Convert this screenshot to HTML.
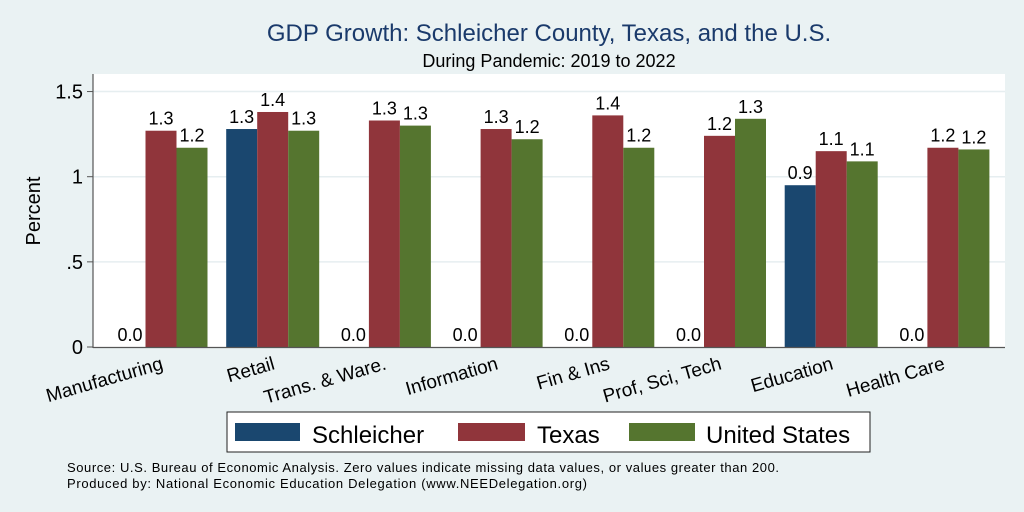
<!DOCTYPE html>
<html><head><meta charset="utf-8"><style>
body{margin:0;background:#eaf2f3;}
svg{display:block;font-family:"Liberation Sans",Arial,sans-serif;}
</style></head><body>
<svg id="chart" width="1024" height="512" viewBox="0 0 1024 512">
<rect x="0" y="0" width="1024" height="512" fill="#eaf2f3"/>
<text x="549" y="41" font-size="24" fill="#1a3a6b" text-anchor="middle">GDP Growth: Schleicher County, Texas, and the U.S.</text>
<text x="549" y="67" font-size="18" fill="#000" text-anchor="middle">During Pandemic: 2019 to 2022</text>
<rect x="93" y="74" width="912" height="273" fill="#fff"/>
<g id="grid"></g>
<g id="bars"></g>
<line x1="93" y1="74" x2="93" y2="348" stroke="#555" stroke-width="1.2"/>
<line x1="93" y1="347.5" x2="1005" y2="347.5" stroke="#555" stroke-width="1.2"/>
<text transform="translate(40,211) rotate(-90)" font-size="20" text-anchor="middle">Percent</text>
<rect x="227" y="412" width="643" height="40" fill="#fff" stroke="#222" stroke-width="1"/>
<rect x="235" y="423" width="65" height="18" fill="#1a476f"/>
<text x="312" y="443" font-size="24">Schleicher</text>
<rect x="458" y="423" width="67" height="18" fill="#90353b"/>
<text x="537" y="443" font-size="24">Texas</text>
<rect x="629" y="423" width="66" height="18" fill="#55752f"/>
<text x="706" y="443" font-size="24">United States</text>
<text x="67" y="472" font-size="13" textLength="712">Source: U.S. Bureau of Economic Analysis. Zero values indicate missing data values, or values greater than 200.</text>
<text x="67" y="488" font-size="13" textLength="520">Produced by: National Economic Education Delegation (www.NEEDelegation.org)</text>
</svg>
<script>
const categories=["Manufacturing","Retail","Trans. & Ware.","Information","Fin & Ins","Prof, Sci, Tech","Education","Health Care"];
const schleicher=[0,1.28,0,0,0,0,0.95,0];
const texas=[1.27,1.38,1.33,1.28,1.36,1.24,1.15,1.17];
const unitedStates=[1.17,1.27,1.30,1.22,1.17,1.34,1.09,1.16];
const yTicks=[0,0.5,1,1.5];
const yTickLabels=["0",".5","1","1.5"];
const NS="http://www.w3.org/2000/svg";
const y=v=>347-v*170.3;
const groupX=i=>130+i*111.7;
const bw=31;
function mk(tag,attrs,parent){const e=document.createElementNS(NS,tag);for(const k in attrs)e.setAttribute(k,attrs[k]);parent.appendChild(e);return e;}
const grid=document.getElementById('grid');
yTicks.forEach((t,i)=>{
  if(t>0){const g=mk('line',{x1:93,x2:1005,y1:y(t),y2:y(t),stroke:'#e6eef0','stroke-width':1.5},grid);
  
  }
  const tk=mk('line',{x1:87,x2:93,y1:y(t),y2:y(t),stroke:'#555'},grid);
  
  
  const tx=mk('text',{x:83,y:y(t)+7,'font-size':20,'text-anchor':'end'},grid);
  tx.textContent=yTickLabels[i];
  
  
});
const bars=document.getElementById('bars');
const series=[[schleicher,'#1a476f','schleicher'],[texas,'#90353b','texas'],[unitedStates,'#55752f','united-states']];
categories.forEach((c,i)=>{
  series.forEach(([vals,col,nm],s)=>{
    const cx=groupX(i)+s*bw;const v=vals[i];
    if(v>0){const r=mk('rect',{x:cx-bw/2,y:y(v),width:bw,height:347-y(v),fill:col},bars);
    
    }
    const t=mk('text',{x:cx,y:y(v)-6,'font-size':18,'text-anchor':'middle'},bars);
    t.textContent=v.toFixed(1);
    
    
  });
  const ex=groupX(i)+bw+3;
  const lt=mk('text',{x:ex,y:369,'font-size':19,'text-anchor':'end',transform:`rotate(-16 ${ex} 369)`},bars);
  lt.textContent=c;
  
  
});
</script>
</body></html>
